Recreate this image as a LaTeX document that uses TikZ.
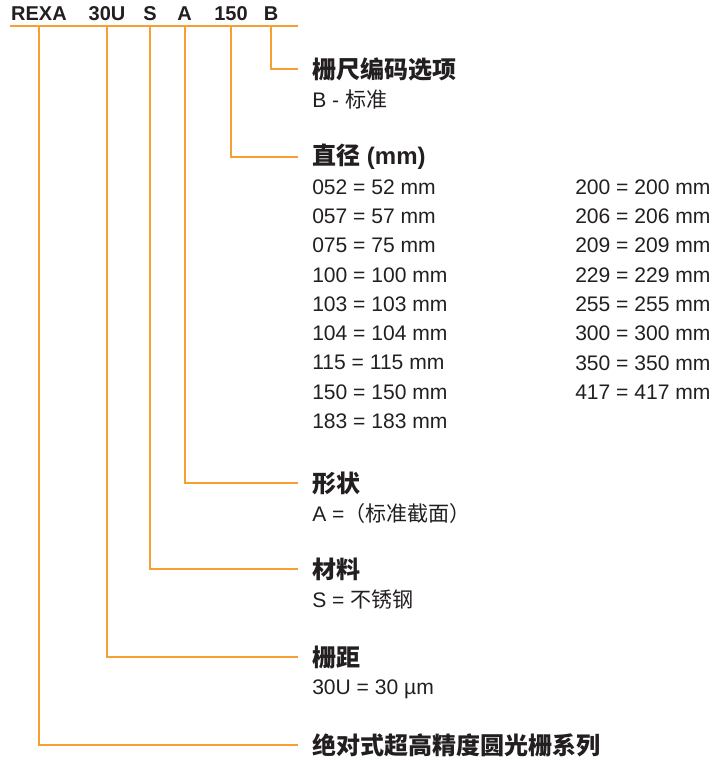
\documentclass[tikz,border=0pt]{standalone}
\usepackage{fontspec}
\setmainfont{Liberation Sans}
\newfontfamily\cjk{Noto Sans CJK SC}
\definecolor{leadorange}{RGB}{246,160,52}
\definecolor{ink}{RGB}{35,31,32}
\tikzset{
  lead/.style={draw=leadorange, line width=1.5pt},
  code/.style={anchor=base, inner sep=0pt, font=\fontsize{15}{18}\selectfont\bfseries},
  heading/.style={anchor=west, inner sep=0pt, font=\fontsize{18}{21}\selectfont\bfseries},
  entry/.style={anchor=west, inner sep=0pt, font=\fontsize{15.8}{19}\selectfont}
}
\begin{document}
\begin{tikzpicture}[x=0.75pt, y=-0.75pt, text=ink]
    \useasboundingbox (0,0) rectangle (713,760);

    % order code
    \node [code] (rexa) at (39, 20.5) {REXA};
    \node [code] (pitch) at (107, 20.5) {30U};
    \node [code] (mat) at (150, 20.5) {S};
    \node [code] (shape) at (184.5, 20.5) {A};
    \node [code] (dia) at (231, 20.5) {150};
    \node [code] (enc) at (271, 20.5) {B};
    \coordinate (ul) at (10, 26);
    \coordinate (ur) at (298, 26);
    \draw [lead] (ul) -- (ur);

    % headings
    \node [heading] (encopt) at (312, 69) {\cjk 栅尺编码选项};
    \node [heading] (diahead) at (312, 157) {{\cjk 直径} (mm)};
    \node [heading] (shapehead) at (312, 483) {\cjk 形状};
    \node [heading] (mathead) at (312, 569) {\cjk 材料};
    \node [heading] (pitchhead) at (312, 657) {\cjk 栅距};
    \node [heading] (series) at (312, 745) {\cjk 绝对式超高精度圆光栅系列};

    % descriptions
    \node [entry] (encB) at (312, 99) {B - {\cjk 标准}};
    \node [entry] (shapeA) at (312, 513) {A ={\cjk （标准截面）}};
    \node [entry] (matS) at (312, 600) {S = {\cjk 不锈钢}};
    \node [entry] (pitch30) at (312, 689) {30U = 30 µm};

    % diameters
    \foreach \c/\v [count=\i from 0] in {052/52, 057/57, 075/75, 100/100, 103/103, 104/104, 115/115, 150/150, 183/183}
      \node [entry] (dl\i) at (312, 187 + 29.3*\i) {\c\ = \v\ mm};
    \foreach \c [count=\i from 0] in {200, 206, 209, 229, 255, 300, 350, 417}
      \node [entry] (dr\i) at (575, 187 + 29.3*\i) {\c\ = \c\ mm};

    % leaders
    \draw [lead] (enc |- ul) |- ([xshift=-10.5pt]encopt.west);
    \draw [lead] (dia |- ul) |- ([xshift=-10.5pt]diahead.west);
    \draw [lead] (shape |- ul) |- ([xshift=-10.5pt]shapehead.west);
    \draw [lead] (mat |- ul) |- ([xshift=-10.5pt]mathead.west);
    \draw [lead] (pitch |- ul) |- ([xshift=-10.5pt]pitchhead.west);
    \draw [lead] (rexa |- ul) |- ([xshift=-10.5pt]series.west);
\end{tikzpicture}
\end{document}
